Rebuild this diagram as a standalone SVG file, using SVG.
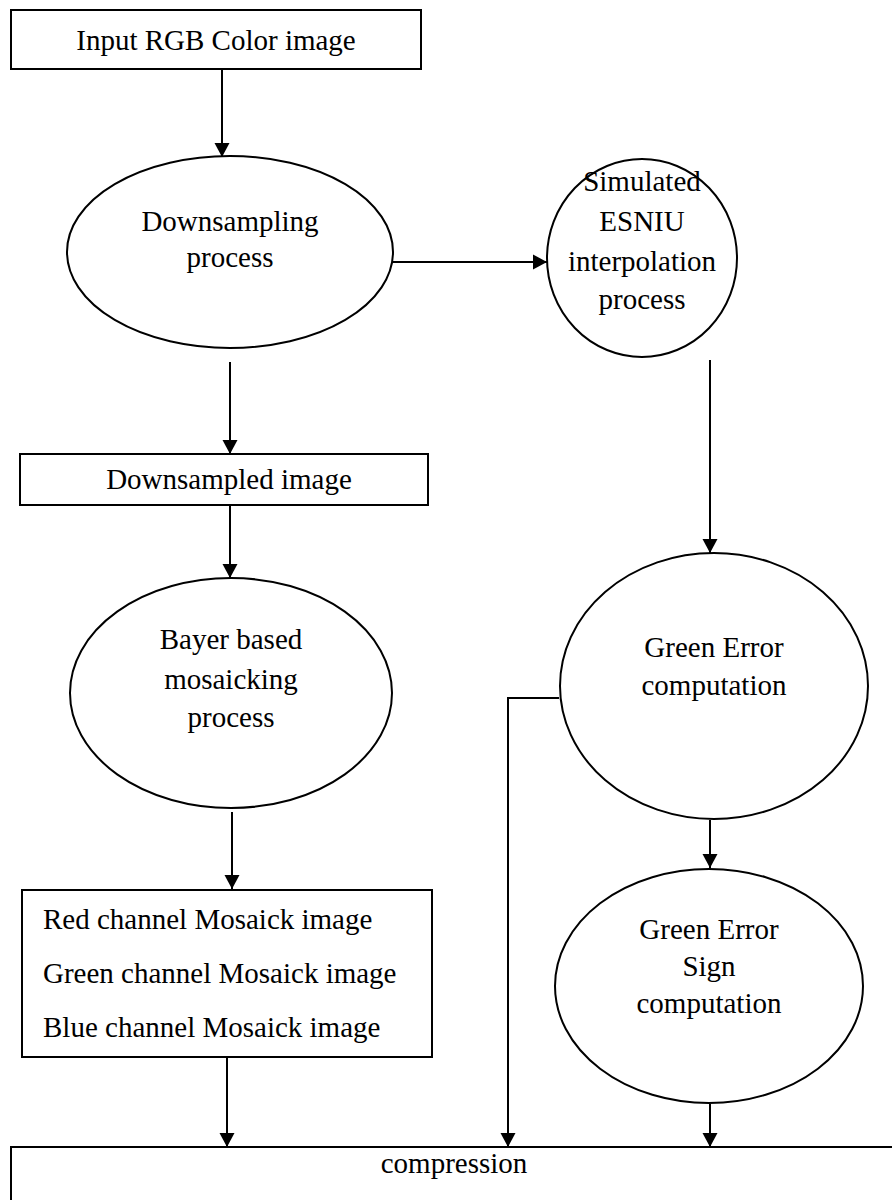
<svg xmlns="http://www.w3.org/2000/svg" width="892" height="1200" viewBox="0 0 892 1200">
<defs>
<marker id="ah" markerWidth="16" markerHeight="16" refX="14" refY="8" orient="auto" markerUnits="userSpaceOnUse">
<path d="M0,0.5 L14,8 L0,15.5 Z" fill="#000"/>
</marker>
<style>
.box{fill:#fff;stroke:#000;stroke-width:2}
.ell{fill:#fff;stroke:#000;stroke-width:2}
.t{font-family:"Liberation Serif","Times New Roman",serif;font-size:29px;fill:#000}
.m{text-anchor:middle}
.c{fill:none;stroke:#000;stroke-width:2}
</style>
</defs>
<rect width="892" height="1200" fill="#fff"/>
<g id="connectors">
<line class="c" x1="222" y1="69" x2="222" y2="157" marker-end="url(#ah)"/>
<line class="c" x1="393" y1="262" x2="547" y2="262" marker-end="url(#ah)"/>
<line class="c" x1="230" y1="362" x2="230" y2="454" marker-end="url(#ah)"/>
<line class="c" x1="230" y1="505" x2="230" y2="578" marker-end="url(#ah)"/>
<line class="c" x1="710" y1="360" x2="710" y2="553" marker-end="url(#ah)"/>
<polyline class="c" points="559,698 508,698 508,1147" marker-end="url(#ah)"/>
<line class="c" x1="710" y1="820" x2="710" y2="868" marker-end="url(#ah)"/>
<line class="c" x1="232" y1="812" x2="232" y2="889" marker-end="url(#ah)"/>
<line class="c" x1="227" y1="1057" x2="227" y2="1147" marker-end="url(#ah)"/>
<line class="c" x1="710" y1="1104" x2="710" y2="1147" marker-end="url(#ah)"/>
</g>
<g id="input">
<rect class="box" x="11" y="10" width="410" height="59"/>
<text class="t m" x="216" y="50">Input RGB Color image</text>
</g>
<g id="downsampling">
<ellipse class="ell" cx="230" cy="252" rx="163" ry="96"/>
<text class="t m" x="230" y="231">Downsampling</text>
<text class="t m" x="230" y="267">process</text>
</g>
<g id="esniu">
<ellipse class="ell" cx="642" cy="258" rx="95" ry="99"/>
<text class="t m" x="642" y="191">Simulated</text>
<text class="t m" x="642" y="231">ESNIU</text>
<text class="t m" x="642" y="271">interpolation</text>
<text class="t m" x="642" y="309">process</text>
</g>
<g id="downsampled">
<rect class="box" x="20" y="454" width="408" height="51"/>
<text class="t m" x="229" y="489">Downsampled image</text>
</g>
<g id="bayer">
<ellipse class="ell" cx="231" cy="693" rx="161" ry="115"/>
<text class="t m" x="231" y="649">Bayer based</text>
<text class="t m" x="231" y="689">mosaicking</text>
<text class="t m" x="231" y="727">process</text>
</g>
<g id="green-error">
<ellipse class="ell" cx="714" cy="686" rx="154" ry="133"/>
<text class="t m" x="714" y="657">Green Error</text>
<text class="t m" x="714" y="695">computation</text>
</g>
<g id="mosaick">
<rect class="box" x="22" y="890" width="410" height="167"/>
<text class="t" x="43" y="929">Red channel Mosaick image</text>
<text class="t" x="43" y="983">Green channel Mosaick image</text>
<text class="t" x="43" y="1037">Blue channel Mosaick image</text>
</g>
<g id="green-sign">
<ellipse class="ell" cx="709" cy="986" rx="154" ry="117"/>
<text class="t m" x="709" y="939">Green Error</text>
<text class="t m" x="709" y="976">Sign</text>
<text class="t m" x="709" y="1013">computation</text>
</g>
<g id="compression">
<rect class="box" x="11" y="1147" width="900" height="80"/>
<text class="t m" x="454" y="1173">compression</text>
</g>
</svg>
